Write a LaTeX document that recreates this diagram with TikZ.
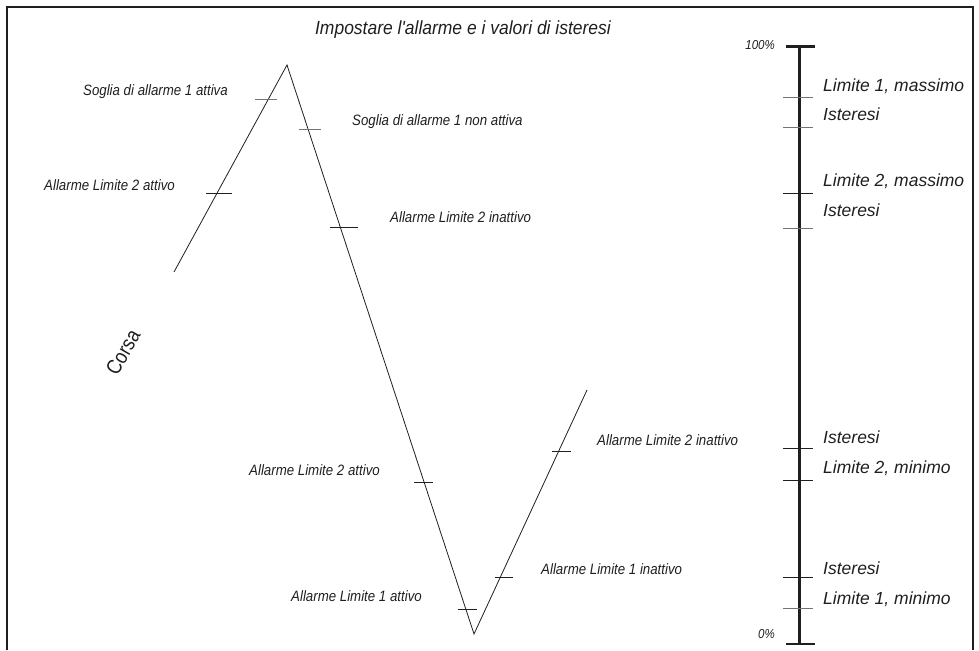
\documentclass[tikz,border=0pt]{standalone}
\usepackage{fontspec}
\setmainfont{Liberation Sans}
\newfontfamily\condfont{Liberation Sans}[FakeStretch=0.885]
\newfontfamily\titlefont{Liberation Sans}[FakeStretch=0.92,Ligatures=TeXOff]
\newfontfamily\corsafont{Liberation Sans}[FakeStretch=0.85]
\begin{document}
\begin{tikzpicture}[x=1pt,y=-1pt,
  ink/.style={draw=black!88},
  lbl/.style={inner sep=0pt,text height=0.72em,text depth=0.18em,text=black!88,font=\condfont\itshape\fontsize{15}{17}\selectfont},
  biglbl/.style={lbl,font=\itshape\fontsize{17.5}{20}\selectfont},
  pct/.style={lbl,font=\condfont\itshape\fontsize{13}{15}\selectfont},
  tickmark/.style={ink,line width=0.9pt},
  graytick/.style={draw=black!55,line width=0.9pt},
  axisline/.style={ink,line width=2.6pt},
  endtick/.style={ink,line width=2.6pt}]
\useasboundingbox (0,0) rectangle (979,650);
% frame
\draw[ink,line width=2.6pt] (7,650) -- (7,7) -- (973,7) -- (973,650);
% title
\node[lbl,font=\titlefont\itshape\fontsize{19}{21}\selectfont] (title) at (463,32) {Impostare l'allarme e i valori di isteresi};
% travel curve
\coordinate (start) at (174,272);
\coordinate (peak) at (287,65);
\coordinate (valley) at (474,634);
\coordinate (finish) at (587,390);
\draw[ink,line width=0.8pt] (start) -- (peak) -- (valley) -- (finish);
% ticks on curve
\draw[graytick] (255,99) -- (277,99);
\draw[graytick] (299,129) -- (321,129);
\draw[tickmark] (206,193) -- (232,193);
\draw[tickmark] (330,227) -- (358,227);
\draw[tickmark] (414,482) -- (433,482);
\draw[tickmark] (458,609) -- (477,609);
\draw[tickmark] (495,577) -- (513,577);
\draw[tickmark] (552,451) -- (571,451);
% curve labels
\node[lbl,anchor=east] (l1) at (228,93) {Soglia di allarme 1 attiva};
\node[lbl,anchor=west] (l2) at (352,123) {Soglia di allarme 1 non attiva};
\node[lbl,anchor=east] (l3) at (175,188) {Allarme Limite 2 attivo};
\node[lbl,anchor=west] (l4) at (390,220) {Allarme Limite 2 inattivo};
\node[lbl,anchor=east] (l5) at (380,473) {Allarme Limite 2 attivo};
\node[lbl,anchor=east] (l6) at (422,599) {Allarme Limite 1 attivo};
\node[lbl,anchor=west] (l7) at (541,572) {Allarme Limite 1 inattivo};
\node[lbl,anchor=west] (l8) at (597,443) {Allarme Limite 2 inattivo};
% Corsa
\node[inner sep=0pt,text=black!88,font=\corsafont\fontsize{21}{23}\selectfont,rotate=60] (corsa) at (123,352) {Corsa};
% axis
\coordinate (atop) at (799.5,46.5);
\coordinate (abot) at (799.5,644);
\draw[axisline] (atop) -- (abot);
\draw[endtick] (786,46.5) -- (815,46.5);
\draw[endtick] (786,644) -- (815,644);
\draw[graytick] (783,97.5) -- (813,97.5);
\draw[graytick] (783,127.5) -- (813,127.5);
\draw[tickmark] (783,193.5) -- (813,193.5);
\draw[graytick] (783,228) -- (813,228);
\draw[tickmark] (783,448.5) -- (813,448.5);
\draw[tickmark] (783,480) -- (813,480);
\draw[tickmark] (783,577.5) -- (813,577.5);
\draw[graytick] (783,608.5) -- (813,608.5);
\node[pct,anchor=east] (p100) at (775,47) {100\%};
\node[pct,anchor=east] (p0) at (775,636) {0\%};
% axis labels
\node[biglbl,anchor=west] (r1) at (823,89) {Limite 1, massimo};
\node[biglbl,anchor=west] (r2) at (823,118) {Isteresi};
\node[biglbl,anchor=west] (r3) at (823,184) {Limite 2, massimo};
\node[biglbl,anchor=west] (r4) at (823,214) {Isteresi};
\node[biglbl,anchor=west] (r5) at (823,441) {Isteresi};
\node[biglbl,anchor=west] (r6) at (823,471) {Limite 2, minimo};
\node[biglbl,anchor=west] (r7) at (823,572) {Isteresi};
\node[biglbl,anchor=west] (r8) at (823,602) {Limite 1, minimo};
\end{tikzpicture}
\end{document}
